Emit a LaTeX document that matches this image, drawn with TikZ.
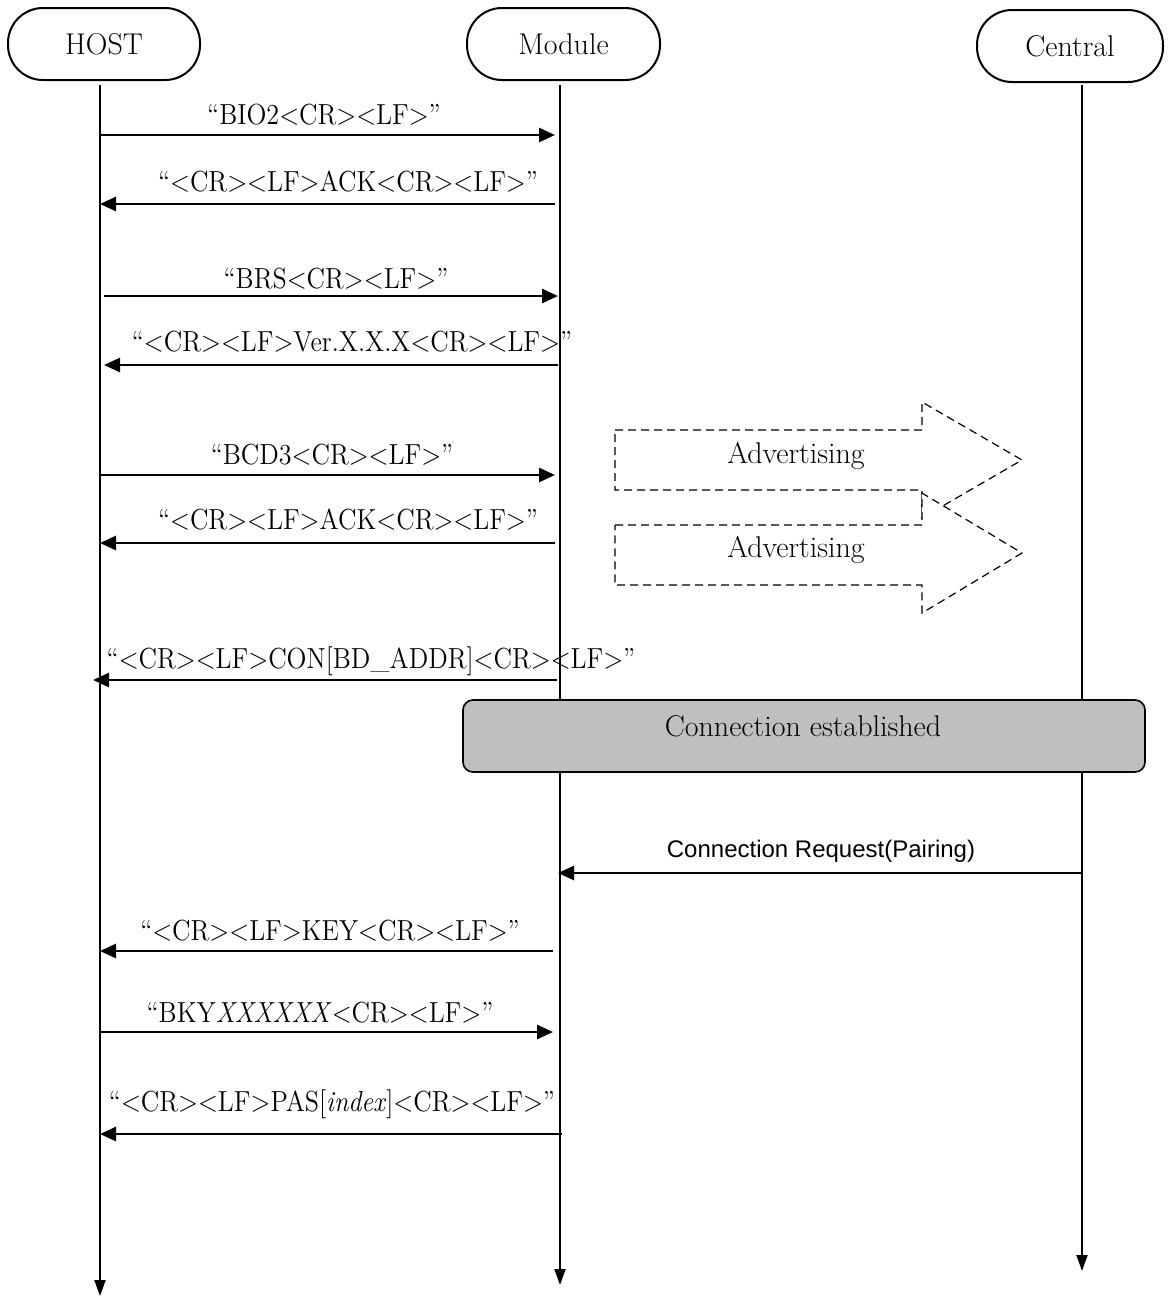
\documentclass[tikz,border=0pt]{standalone}
\usepackage{fontspec}
\newfontfamily\arialfont{Liberation Sans}
\usetikzlibrary{arrows.meta}
\newcommand{\msgtext}[1]{\scalebox{0.9}[1]{#1}}
\begin{document}
\begin{tikzpicture}[x=0.5pt,y=-0.5pt,
  actor/.style={draw, line width=1pt, rounded corners=17.5pt, minimum height=36pt,
    inner sep=0pt, font=\fontsize{15}{18}\selectfont},
  msg/.style={line width=1.35pt, -{Triangle[length=8pt,width=7pt]}},
  life/.style={line width=1pt, -{Triangle[length=8pt,width=5.5pt]}},
  lbl/.style={anchor=base, inner sep=0pt, font=\fontsize{14.5}{17}\selectfont},
  adv/.style={draw, dashed, dash pattern=on 4pt off 2.5pt, line width=0.6pt, fill=white},
  advtext/.style={anchor=base, inner sep=0pt, font=\fontsize{15}{18}\selectfont},
  connbox/.style={draw, line width=0.8pt, rounded corners=5pt, fill=gray!50,
    minimum width=341pt, minimum height=36pt, inner sep=0pt}
]
\useasboundingbox (0,0) rectangle (1170,1297);

% actors
\node[actor, minimum width=96pt] (host) at (104,44) {HOST};
\node[actor, minimum width=96.5pt] (module) at (563.5,44) {Module};
\node[actor, minimum width=93pt] (central) at (1070,46) {Central};

% lifelines
\coordinate (hs) at (100,85);  \coordinate (he) at (100,1296);
\coordinate (ms) at (560,85);  \coordinate (me) at (560,1285);
\coordinate (cs) at (1082,85); \coordinate (ce) at (1082,1271);
\draw[life] (hs) -- (he);
\draw[life] (ms) -- (me);
\draw[life] (cs) -- (ce);

% messages
\coordinate (h1) at (100,135); \coordinate (m1) at (555,135);
\draw[msg] (h1) -- (m1);
\node[lbl] (t1) at (324,124) {\msgtext{“BIO2<CR><LF>”}};

\coordinate (m2) at (555,204); \coordinate (h2) at (100,204);
\draw[msg] (m2) -- (h2);
\node[lbl] (t2) at (348,191) {\msgtext{“<CR><LF>ACK<CR><LF>”}};

\coordinate (h3) at (104,296); \coordinate (m3) at (558,296);
\draw[msg] (h3) -- (m3);
\node[lbl] (t3) at (336,288) {\msgtext{“BRS<CR><LF>”}};

\coordinate (m4) at (558,365); \coordinate (h4) at (104,365);
\draw[msg] (m4) -- (h4);
\node[lbl] (t4) at (352,351) {\msgtext{“<CR><LF>Ver.X.X.X<CR><LF>”}};

\coordinate (h5) at (100,475); \coordinate (m5) at (555,475);
\draw[msg] (h5) -- (m5);
\node[lbl] (t5) at (332,464) {\msgtext{“BCD3<CR><LF>”}};

\coordinate (m6) at (555,543); \coordinate (h6) at (100,543);
\draw[msg] (m6) -- (h6);
\node[lbl] (t6) at (348,529) {\msgtext{“<CR><LF>ACK<CR><LF>”}};

% advertising arrows
\draw[adv] (615,430) -- (922,430) -- (922,402) -- (1022,460) -- (922,518)
  -- (922,490) -- (615,490) -- cycle;
\node[advtext] (a1) at (796,463) {Advertising};
\draw[adv] (615,525) -- (922,525) -- (922,493) -- (1022,553) -- (922,613)
  -- (922,585) -- (615,585) -- cycle;
\node[advtext] (a2) at (796,557) {Advertising};

\coordinate (m7) at (557,680); \coordinate (h7) at (93,680);
\draw[msg] (m7) -- (h7);
\node[lbl] (t7) at (371,668) {\msgtext{“<CR><LF>CON[BD\_ADDR]<CR><LF>”}};

% connection established
\node[connbox] (conn) at (804,736) {};
\node[advtext] (conntext) at (803,736) {Connection established};

\coordinate (c8) at (1082,873); \coordinate (m8) at (558,873);
\draw[msg] (c8) -- (m8);
\node[anchor=base, inner sep=0pt, font=\arialfont\fontsize{12}{14}\selectfont] (t8) at (821,857) {Connection Request(Pairing)};

\coordinate (m9) at (553,951); \coordinate (h9) at (100,951);
\draw[msg] (m9) -- (h9);
\node[lbl] (t9) at (330,940) {\msgtext{“<CR><LF>KEY<CR><LF>”}};

\coordinate (h10) at (100,1032); \coordinate (m10) at (553,1032);
\draw[msg] (h10) -- (m10);
\node[lbl] (t10) at (320,1022) {\msgtext{“BKY\textit{XXXXXX}<CR><LF>”}};

\coordinate (m11) at (562,1134); \coordinate (h11) at (100,1134);
\draw[msg] (m11) -- (h11);
\node[lbl] (t11) at (332,1111) {\msgtext{“<CR><LF>PAS[\textit{index}]<CR><LF>”}};
\end{tikzpicture}
\end{document}
